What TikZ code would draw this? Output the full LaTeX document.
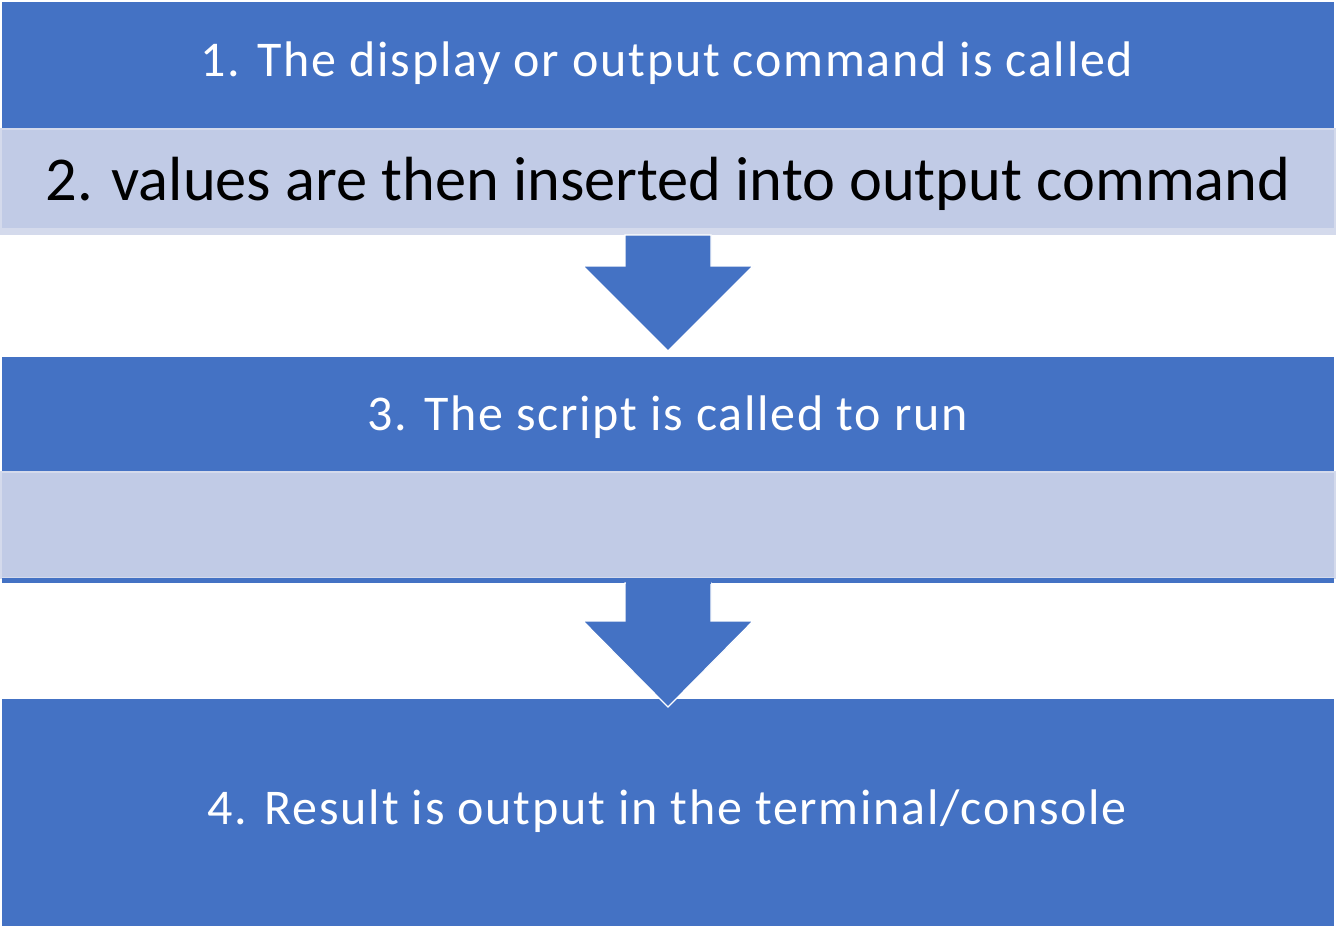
\documentclass[tikz,border=0pt]{standalone}
\usepackage{fontspec}
\setmainfont{Carlito}
\newfontfamily\wfont[LetterSpace=3.5]{Carlito}
\definecolor{ablue}{HTML}{4472C4}
\definecolor{alight}{HTML}{C1CBE6}
\definecolor{alighter}{HTML}{D4DAEC}
\tikzset{
  bluebox/.style={fill=ablue, draw=none},
  whitetext/.style={text=white, anchor=base, inner sep=0pt, font=\wfont\fontsize{25}{30}\selectfont},
  blacktext/.style={text=black, anchor=base, inner sep=0pt, font=\fontsize{31.2}{36}\selectfont},
  downarrow/.style={fill=ablue, draw=white, line width=0.6pt, line join=miter},
}
\begin{document}
\begin{tikzpicture}[x=0.5pt, y=-0.5pt]
\useasboundingbox (0,0) rectangle (1336,928);
% box 1
\fill[ablue] (2,2) rectangle (1334,129);
\node[whitetext] (t1) at (667,76) {1. The display or output command is called};
% box 2
\fill[alighter] (0,128) rectangle (1336,235);
\fill[alight] (2,130) rectangle (1334,228);
\node[blacktext] (t2) at (668,200) {2. values are then inserted into output command};
% arrow 1
\filldraw[downarrow] (625,235) -- (625,266) -- (583,266) -- (668,351) -- (753,266) -- (711,266) -- (711,235) -- cycle;
% box 3
\fill[ablue] (2,357) rectangle (1334,472);
\node[whitetext] (t3) at (667.5,430) {3. The script is called to run};
% box 4
\fill[alighter] (0,471) rectangle (1336,579);
\fill[alight] (2,473) rectangle (1334,577);
\fill[ablue] (2,578) rectangle (1334,583);
% box 5
\fill[ablue] (2,699) rectangle (1334,926);
\node[whitetext] (t4) at (667.5,824) {4. Result is output in the terminal/console};
% arrow 2
\filldraw[downarrow] (625,583) -- (625,621) -- (583,621) -- (668,707) -- (753,621) -- (711,621) -- (711,583) -- cycle;
\fill[ablue] (625.5,580) rectangle (710.5,584);
\end{tikzpicture}
\end{document}
